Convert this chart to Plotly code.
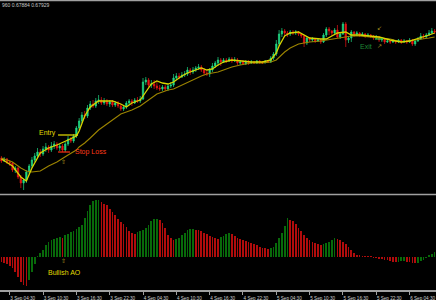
import plotly.graph_objects as go

# ---------------- data ----------------
opens = [0.67842,0.67839,0.67841,0.67838,0.67837,0.67830,0.67832,0.67823,0.67817,0.67820,
0.67828,0.67834,0.67840,0.67844,0.67848,0.67846,0.67851,0.67853,0.67850,0.67854,
0.67856,0.67852,0.67854,0.67850,0.67856,0.67861,0.67859,0.67864,0.67872,0.67879,
0.67885,0.67884,0.67892,0.67896,0.67894,0.67899,0.67900,0.67897,0.67899,0.67896,
0.67898,0.67895,0.67897,0.67894,0.67891,0.67893,0.67897,0.67899,0.67897,0.67900,
0.67899,0.67901,0.67918,0.67920,0.67915,0.67916,0.67914,0.67912,0.67911,0.67913,
0.67911,0.67914,0.67915,0.67922,0.67924,0.67923,0.67925,0.67926,0.67930,0.67928,
0.67930,0.67932,0.67933,0.67930,0.67927,0.67926,0.67930,0.67934,0.67937,0.67940,
0.67938,0.67940,0.67939,0.67941,0.67939,0.67940,0.67937,0.67938,0.67936,0.67938,
0.67937,0.67938,0.67937,0.67939,0.67938,0.67937,0.67939,0.67938,0.67942,0.67946,
0.67956,0.67966,0.67969,0.67967,0.67966,0.67968,0.67967,0.67968,0.67966,0.67964,
0.67957,0.67962,0.67960,0.67961,0.67959,0.67960,0.67958,0.67965,0.67971,0.67969,
0.67967,0.67970,0.67963,0.67966,0.67976,0.67960,0.67962,0.67968,0.67966,0.67967,
0.67965,0.67966,0.67964,0.67965,0.67964,0.67962,0.67963,0.67960,0.67961,0.67958,
0.67959,0.67958,0.67959,0.67958,0.67960,0.67958,0.67959,0.67958,0.67960,0.67956,
0.67959,0.67961,0.67964,0.67963,0.67965,0.67967,0.67969]
closes = [0.67839,0.67841,0.67838,0.67837,0.67830,0.67832,0.67823,0.67817,0.67820,0.67828,
0.67834,0.67840,0.67844,0.67848,0.67846,0.67851,0.67853,0.67850,0.67854,0.67856,
0.67852,0.67854,0.67850,0.67856,0.67861,0.67859,0.67864,0.67872,0.67879,0.67885,
0.67884,0.67892,0.67896,0.67894,0.67899,0.67900,0.67897,0.67899,0.67896,0.67898,
0.67895,0.67897,0.67894,0.67891,0.67893,0.67897,0.67899,0.67897,0.67900,0.67899,
0.67901,0.67918,0.67920,0.67915,0.67916,0.67914,0.67912,0.67911,0.67913,0.67911,
0.67914,0.67915,0.67922,0.67924,0.67923,0.67925,0.67926,0.67930,0.67928,0.67930,
0.67932,0.67933,0.67930,0.67927,0.67926,0.67930,0.67934,0.67937,0.67940,0.67938,
0.67940,0.67939,0.67941,0.67939,0.67940,0.67937,0.67938,0.67936,0.67938,0.67937,
0.67938,0.67937,0.67939,0.67938,0.67937,0.67939,0.67938,0.67942,0.67946,0.67956,
0.67966,0.67969,0.67967,0.67966,0.67968,0.67967,0.67968,0.67966,0.67964,0.67957,
0.67962,0.67960,0.67961,0.67959,0.67960,0.67958,0.67965,0.67971,0.67969,0.67967,
0.67970,0.67963,0.67966,0.67976,0.67960,0.67962,0.67968,0.67966,0.67967,0.67965,
0.67966,0.67964,0.67965,0.67964,0.67962,0.67963,0.67960,0.67961,0.67958,0.67959,
0.67958,0.67959,0.67958,0.67960,0.67958,0.67959,0.67958,0.67960,0.67956,0.67959,
0.67961,0.67964,0.67963,0.67965,0.67967,0.67969,0.67968]
highs = [0.67844,0.67843,0.67842,0.67840,0.67838,0.67834,0.67833,0.67825,0.67821,0.67830,
0.67836,0.67843,0.67847,0.67852,0.67851,0.67854,0.67857,0.67855,0.67858,0.67859,
0.67858,0.67856,0.67856,0.67858,0.67864,0.67863,0.67866,0.67874,0.67882,0.67888,
0.67889,0.67895,0.67899,0.67900,0.67902,0.67905,0.67903,0.67902,0.67901,0.67900,
0.67900,0.67899,0.67899,0.67896,0.67895,0.67899,0.67901,0.67901,0.67902,0.67903,
0.67904,0.67922,0.67923,0.67922,0.67920,0.67920,0.67918,0.67915,0.67915,0.67915,
0.67916,0.67918,0.67926,0.67927,0.67927,0.67928,0.67929,0.67933,0.67932,0.67933,
0.67934,0.67936,0.67935,0.67932,0.67930,0.67932,0.67937,0.67939,0.67943,0.67942,
0.67942,0.67942,0.67943,0.67943,0.67943,0.67942,0.67940,0.67940,0.67940,0.67940,
0.67940,0.67939,0.67940,0.67940,0.67939,0.67940,0.67940,0.67944,0.67948,0.67960,
0.67970,0.67972,0.67971,0.67969,0.67970,0.67970,0.67970,0.67969,0.67967,0.67965,
0.67964,0.67963,0.67963,0.67962,0.67962,0.67961,0.67967,0.67973,0.67973,0.67970,
0.67972,0.67975,0.67968,0.67978,0.67978,0.67964,0.67970,0.67969,0.67969,0.67968,
0.67968,0.67967,0.67967,0.67966,0.67965,0.67965,0.67964,0.67963,0.67962,0.67961,
0.67960,0.67961,0.67960,0.67961,0.67961,0.67961,0.67960,0.67962,0.67961,0.67960,
0.67963,0.67967,0.67966,0.67967,0.67970,0.67972,0.67971]
lows = [0.67837,0.67838,0.67836,0.67834,0.67828,0.67827,0.67821,0.67812,0.67810,0.67817,
0.67826,0.67832,0.67838,0.67842,0.67843,0.67844,0.67848,0.67847,0.67848,0.67851,
0.67850,0.67849,0.67848,0.67848,0.67854,0.67857,0.67857,0.67862,0.67870,0.67877,
0.67881,0.67882,0.67890,0.67892,0.67892,0.67896,0.67895,0.67895,0.67894,0.67893,
0.67893,0.67893,0.67892,0.67889,0.67889,0.67891,0.67895,0.67894,0.67896,0.67897,
0.67897,0.67900,0.67915,0.67913,0.67912,0.67911,0.67910,0.67909,0.67909,0.67909,
0.67909,0.67912,0.67913,0.67920,0.67921,0.67922,0.67923,0.67924,0.67925,0.67926,
0.67928,0.67930,0.67928,0.67925,0.67924,0.67923,0.67928,0.67932,0.67934,0.67934,
0.67937,0.67937,0.67938,0.67937,0.67938,0.67935,0.67935,0.67935,0.67935,0.67935,
0.67936,0.67936,0.67936,0.67936,0.67936,0.67937,0.67937,0.67937,0.67940,0.67944,
0.67954,0.67963,0.67964,0.67963,0.67964,0.67965,0.67965,0.67964,0.67962,0.67953,
0.67955,0.67958,0.67958,0.67957,0.67958,0.67956,0.67957,0.67963,0.67965,0.67964,
0.67965,0.67962,0.67961,0.67965,0.67953,0.67957,0.67958,0.67963,0.67964,0.67963,
0.67964,0.67962,0.67963,0.67962,0.67960,0.67961,0.67958,0.67958,0.67956,0.67957,
0.67956,0.67957,0.67956,0.67957,0.67956,0.67957,0.67956,0.67957,0.67954,0.67954,
0.67958,0.67960,0.67961,0.67962,0.67964,0.67966,0.67966]

ma_bars = [0,4,7,9,11,14,17,20,24,27,28,30,32,35,40,43,45,47,50,52,54,56,58,60,62,65,67,69,72,74,
           76,78,80,83,86,90,94,97,99,100,102,104,107,109,111,115,117,119,121,124,126,129,133,136,140,144,147,151,154,156]
fast_ma = [0.67841,0.67834,0.67823,0.67819,0.67832,0.67847,0.67852,0.67855,0.67860,0.67864,
           0.67869,0.67884,0.67893,0.67899,0.67899,0.67896,0.67893,0.67897,0.67900,0.67908,
           0.67916,0.67919,0.67917,0.67916,0.67918,0.67924,0.67927,0.67929,0.67932,0.67930,
           0.67931,0.67935,0.67938,0.67940,0.67939,0.67938,0.67938,0.67940,0.67947,0.67954,
           0.67964,0.67967,0.67968,0.67965,0.67962,0.67961,0.67961,0.67964,0.67967,0.67968,
           0.67965,0.67965,0.67964,0.67963,0.67960,0.67958,0.67959,0.67962,0.67965,0.67967]
slow_ma = [0.67842,0.67838,0.67832,0.67829,0.67828,0.67829,0.67834,0.67838,0.67845,0.67850,
           0.67853,0.67857,0.67862,0.67870,0.67880,0.67886,0.67888,0.67890,0.67894,0.67898,
           0.67902,0.67906,0.67908,0.67910,0.67911,0.67915,0.67917,0.67920,0.67924,0.67926,
           0.67927,0.67928,0.67930,0.67933,0.67935,0.67937,0.67937,0.67938,0.67940,0.67943,
           0.67948,0.67952,0.67956,0.67957,0.67958,0.67959,0.67960,0.67961,0.67962,0.67963,
           0.67964,0.67964,0.67963,0.67962,0.67961,0.67958,0.67959,0.67961,0.67962,0.67963]

ao = [-0.00010,-0.00012,-0.00014,-0.00018,-0.00022,-0.00030,-0.00040,-0.00050,-0.00056,-0.00057,
-0.00046,-0.00030,-0.00014,0.00002,0.00008,0.00014,0.00024,0.00030,0.00034,0.00037,
0.00039,0.00040,0.00039,0.00044,0.00047,0.00050,0.00052,0.00056,0.00060,0.00064,
0.00078,0.00092,0.00104,0.00112,0.00114,0.00115,0.00110,0.00107,0.00104,0.00096,
0.00090,0.00084,0.00076,0.00070,0.00066,0.00060,0.00052,0.00048,0.00047,0.00050,
0.00052,0.00054,0.00058,0.00064,0.00072,0.00076,0.00077,0.00074,0.00068,0.00058,
0.00044,0.00038,0.00034,0.00036,0.00039,0.00044,0.00048,0.00054,0.00056,0.00057,
0.00055,0.00054,0.00052,0.00049,0.00046,0.00042,0.00040,0.00038,0.00037,0.00040,
0.00043,0.00046,0.00048,0.00046,0.00042,0.00039,0.00036,0.00034,0.00032,0.00030,
0.00028,0.00026,0.00024,0.00021,0.00019,0.00018,0.00016,0.00018,0.00021,0.00028,
0.00038,0.00048,0.00062,0.00078,0.00075,0.00072,0.00066,0.00058,0.00052,0.00044,
0.00038,0.00034,0.00031,0.00028,0.00026,0.00025,0.00027,0.00029,0.00031,0.00034,
0.00038,0.00037,0.00034,0.00030,0.00026,0.00020,0.00014,0.00009,0.00005,0.00003,
0.00002,0.000012,0.000006,0.000002,-0.000006,-0.000012,-0.000024,-0.000036,-0.00005,-0.000066,
-0.00008,-0.000094,-0.000104,-0.00009,-0.00008,-0.000072,-0.00009,-0.000106,-0.00012,-0.000126,
-0.00011,-0.00008,-0.00005,-0.00001,0.00003,0.00007,0.00011]

tick_bars = [3,15,27,39,51,63,75,87,99,111,123,135,147]
tick_labels = ["3 Sep 04:30","3 Sep 10:30","3 Sep 16:30","3 Sep 22:30","4 Sep 04:30","4 Sep 10:30",
               "4 Sep 16:30","4 Sep 22:30","5 Sep 04:30","5 Sep 10:30","5 Sep 16:30","5 Sep 22:30","6 Sep 04:30"]

entry_price = 0.67865
stop_price = 0.67848
exit_price = 0.67961

# ---------------- figure ----------------
n = len(closes)
bars = list(range(n))
GREEN = "#20d884"
RED = "#e81414"

fig = go.Figure()
fig.add_trace(go.Candlestick(
    x=bars, open=opens, high=highs, low=lows, close=closes,
    increasing=dict(line=dict(color=GREEN, width=0.7), fillcolor=GREEN),
    decreasing=dict(line=dict(color=RED, width=0.7), fillcolor=RED),
    whiskerwidth=0, xaxis="x", yaxis="y", showlegend=False, hoverinfo="skip"))
fig.add_trace(go.Scatter(x=ma_bars, y=slow_ma, mode="lines", line=dict(color="#9c8400", width=1.1),
                         xaxis="x", yaxis="y", showlegend=False, hoverinfo="skip"))
fig.add_trace(go.Scatter(x=ma_bars, y=fast_ma, mode="lines", line=dict(color="#d8d400", width=1.3),
                         xaxis="x", yaxis="y", showlegend=False, hoverinfo="skip"))

ao_colors = []
for i, v in enumerate(ao):
    prev = ao[i - 1] if i > 0 else v + 1
    ao_colors.append("#086a0a" if v > prev else "#b00c0c")
fig.add_trace(go.Bar(x=bars, y=ao, marker=dict(color=ao_colors, line=dict(width=0)), width=0.26,
                     xaxis="x", yaxis="y2", showlegend=False, hoverinfo="skip"))

# trade annotations
fig.add_shape(type="line", xref="x", yref="y", x0=20.4, x1=27.6, y0=entry_price, y1=entry_price,
              line=dict(color="#e8e000", width=1.2))
fig.add_shape(type="line", xref="x", yref="y", x0=20.4, x1=24.7, y0=stop_price, y1=stop_price,
              line=dict(color="#ff3010", width=1.2))
fig.add_shape(type="line", xref="x", yref="y", x0=134.5, x1=137.5, y0=exit_price, y1=exit_price,
              line=dict(color="#30c050", width=1.2))

F = "Liberation Sans, Arial, sans-serif"
anns = [
    dict(x=16.6, y=entry_price + 0.00002, text="Entry", color="#e0d800", size=7, yref="y"),
    dict(x=32.2, y=stop_price, text="Stop Loss", color="#ff3a18", size=7, yref="y"),
    dict(x=22.2, y=0.67838, text="⇧", color="#b8a020", size=6, yref="y"),
    dict(x=131.3, y=0.67954, text="Exit", color="#1e8a34", size=7, yref="y"),
    dict(x=136.1, y=0.67972, text="↙", color="#b8a020", size=6, yref="y"),
    dict(x=136.3, y=0.67954, text="↗", color="#b8a020", size=6, yref="y"),
    dict(x=22.6, y=-0.00030, text="Bullish AO", color="#e0d800", size=7, yref="y2"),
    dict(x=22.2, y=-0.00008, text="⇧", color="#b8a020", size=6, yref="y2"),
]
for a in anns:
    fig.add_annotation(x=a["x"], y=a["y"], xref="x", yref=a["yref"], text=a["text"], showarrow=False,
                       font=dict(family=F, size=a["size"], color=a["color"]), xanchor="center", yanchor="middle")

fig.add_annotation(x=0, y=1 - 4.5 / 300, xref="paper", yref="paper", text="960 0.67884 0.67929",
                   showarrow=False, xanchor="left", yanchor="middle",
                   font=dict(family=F, size=5, color="#c8c8c8"))

# frame lines
for yp in [0.6, 194.5]:
    fig.add_shape(type="line", xref="paper", yref="paper", x0=0, x1=1, y0=1 - yp / 300, y1=1 - yp / 300,
                  line=dict(color="#a0a0a0", width=1.5))

fig.update_layout(
    width=436, height=300, margin=dict(l=0, r=0, t=0, b=0),
    paper_bgcolor="#000000", plot_bgcolor="#000000", showlegend=False, bargap=0,
    xaxis=dict(range=[-0.5, n - 0.5], anchor="y2", rangeslider=dict(visible=False),
               tickmode="array", tickvals=tick_bars, ticktext=tick_labels,
               tickfont=dict(family=F, size=4.6, color="#d0d0d0"), ticks="outside", ticklen=3,
               tickcolor="#a0a0a0", tickwidth=1, ticklabelshift=13, ticklabelstandoff=0,
               ticklabeloverflow="allow",
               showline=True, linecolor="#a0a0a0", linewidth=1.5, showgrid=False, zeroline=False,
               fixedrange=True),
    yaxis=dict(domain=[1 - 194 / 300, 1 - 2 / 300], range=[0.67806, 0.67998], showgrid=False,
               zeroline=False, showticklabels=False, ticks=""),
    yaxis2=dict(domain=[1 - 290 / 300, 1 - 196 / 300], range=[-0.00066, 0.00122], showgrid=False,
                zeroline=False, showticklabels=False, ticks="", anchor="x"),
)

fig.write_html("out.html")
